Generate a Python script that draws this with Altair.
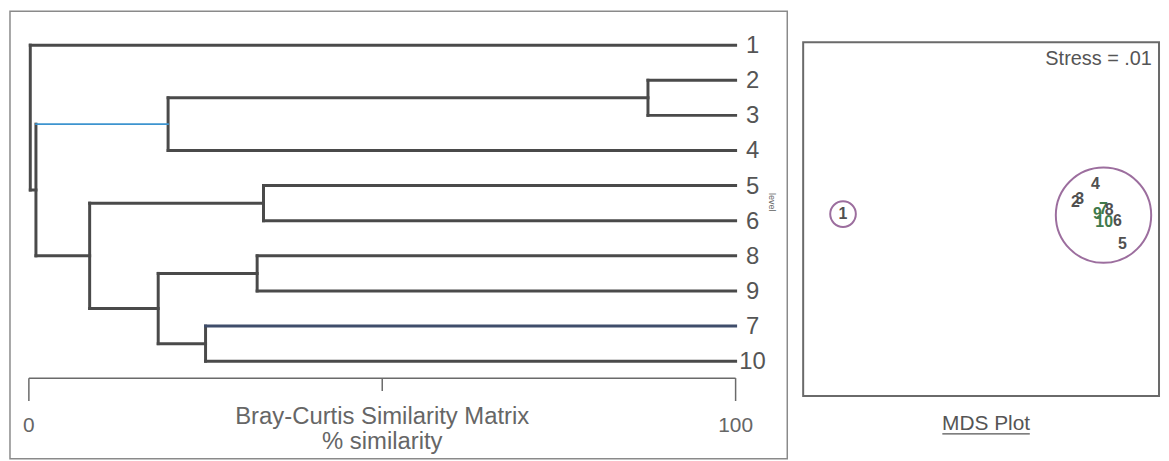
import altair as alt
import pandas as pd

FONT = "Liberation Sans"
GREY = "#555555"

# ---------------- Dendrogram data ----------------
leaf_order = ["1", "2", "3", "4", "5", "6", "8", "9", "7", "10"]
merge_names = ["A", "B", "C", "D", "E", "F", "G", "H", "I"]
merge_left = ["2", "A", "5", "8", "7", "D", "C", "B", "1"]
merge_right = ["3", "4", "6", "9", "10", "E", "F", "G", "H"]
merge_sim = [87.6, 19.7, 33.2, 32.3, 25.0, 18.3, 8.6, 1.0, 0.2]

axis_ticks = [0, 50, 100]
axis_tick_labels = ["0", "", "100"]
axis_title_lines = ["Bray-Curtis Similarity Matrix", "% similarity"]

# ---------------- MDS data ----------------
mds_labels = ["1", "2", "3", "4", "5", "6", "7", "8", "9", "10"]
mds_x = [11.2, 76.5, 77.7, 82.1, 89.7, 88.3, 84.4, 86.0, 82.7, 84.6]
mds_y = [51.4, 54.8, 55.6, 59.8, 43.0, 49.4, 52.8, 52.5, 51.4, 49.2]
circle_cx = [11.2, 84.4]
circle_cy = [51.4, 51.1]
circle_r = [3.6, 13.4]  # radius in MDS x-units
stress_text = "Stress = .01"
mds_title = "MDS Plot"

# ---------------- build dendrogram segments ----------------
pos = {name: (100.0, float(i)) for i, name in enumerate(leaf_order)}
segs = []
for name, l, r, s in zip(merge_names, merge_left, merge_right, merge_sim):
    (xl, yl), (xr, yr) = pos[l], pos[r]
    segs.append(dict(x=s, x2=s, y=yl, y2=yr, child="v"))
    segs.append(dict(x=s, x2=xl, y=yl, y2=yl, child=l))
    segs.append(dict(x=s, x2=xr, y=yr, y2=yr, child=r))
    pos[name] = (s, (yl + yr) / 2)
seg_df = pd.DataFrame(segs)
seg_df["c"] = "#4a4a4a"
seg_df["w"] = 3.0
seg_df.loc[seg_df.child == "B", "c"] = "#3d94cf"
seg_df.loc[seg_df.child == "B", "w"] = 1.6
seg_df.loc[seg_df.child == "7", "c"] = "#3f4d6b"

LW, LH = 782, 450
xs = alt.Scale(domain=[-2.672, 107.31], nice=False, zero=False)
ys = alt.Scale(domain=[-0.962, 11.775], nice=False, zero=False, reverse=True)

segments = alt.Chart(seg_df).mark_rule(strokeCap="square").encode(
    x=alt.X("x:Q", scale=xs, axis=None),
    x2="x2:Q",
    y=alt.Y("y:Q", scale=ys, axis=None),
    y2="y2:Q",
    color=alt.Color("c:N", scale=None),
    size=alt.Size("w:Q", scale=None),
)

leaf_df = pd.DataFrame({"lab": leaf_order, "x": 100.0, "y": list(range(len(leaf_order)))})
leaf_text = alt.Chart(leaf_df).mark_text(
    align="center", baseline="middle", dx=17, dy=1, fontSize=24, font=FONT, color=GREY
).encode(
    x=alt.X("x:Q", scale=xs, axis=None),
    y=alt.Y("y:Q", scale=ys, axis=None),
    text="lab:N",
)

frame = alt.Chart(pd.DataFrame({"a": [0]})).mark_rect(
    fill="transparent", stroke="#8a8a8a", strokeWidth=1.5
).encode(x=alt.value(0), x2=alt.value(LW), y=alt.value(0), y2=alt.value(LH))

axis_df = pd.DataFrame({"a": [axis_ticks[0]], "b": [axis_ticks[-1]]})
axis_line = alt.Chart(axis_df).mark_rule(color="#6a6a6a", strokeWidth=1.5).encode(
    x=alt.X("a:Q", scale=xs, axis=None), x2="b:Q", y=alt.value(369)
)
tick_df = pd.DataFrame({"t": axis_ticks, "lab": axis_tick_labels})
end_ticks = alt.Chart(tick_df[tick_df.t != 50]).mark_rule(color="#6a6a6a", strokeWidth=1.5).encode(
    x=alt.X("t:Q", scale=xs, axis=None), y=alt.value(369), y2=alt.value(392)
)
mid_ticks = alt.Chart(tick_df[tick_df.t == 50]).mark_rule(color="#6a6a6a", strokeWidth=1.5).encode(
    x=alt.X("t:Q", scale=xs, axis=None), y=alt.value(369), y2=alt.value(382)
)
tick_labels = alt.Chart(tick_df).mark_text(
    align="center", baseline="alphabetic", fontSize=21, font=FONT, color="#666666"
).encode(x=alt.X("t:Q", scale=xs, axis=None), y=alt.value(423), text="lab:N")

title_df = pd.DataFrame({"x": [50, 50], "txt": axis_title_lines, "line": [0, 1]})
title1 = alt.Chart(title_df[title_df.line == 0]).mark_text(
    align="center", baseline="alphabetic", fontSize=24, font=FONT, color="#666666"
).encode(x=alt.X("x:Q", scale=xs, axis=None), y=alt.value(415), text="txt:N")
title2 = alt.Chart(title_df[title_df.line == 1]).mark_text(
    align="center", baseline="alphabetic", fontSize=24, font=FONT, color="#666666"
).encode(x=alt.X("x:Q", scale=xs, axis=None), y=alt.value(440), text="txt:N")

level_txt = alt.Chart(pd.DataFrame({"t": ["level"]})).mark_text(
    angle=90, fontSize=9, font=FONT, color="#666666", align="center", baseline="middle"
).encode(x=alt.value(767), y=alt.value(192), text="t:N")

left = alt.layer(
    frame, segments, leaf_text, axis_line, end_ticks, mid_ticks, tick_labels, title1, title2, level_txt
).properties(width=LW, height=LH)

# ---------------- MDS panel ----------------
RW, RH = 358, 450
mx = alt.Scale(domain=[0, 100], nice=False, zero=False)
my = alt.Scale(domain=[-17.7, 108.7], nice=False, zero=False)
px_per_unit = RW / 100.0

box = alt.Chart(pd.DataFrame({"x0": [0], "x1": [100], "y0": [0], "y1": [100]})).mark_rect(
    fill="transparent", stroke="#6a6a6a", strokeWidth=2
).encode(
    x=alt.X("x0:Q", scale=mx, axis=None), x2="x1:Q",
    y=alt.Y("y0:Q", scale=my, axis=None), y2="y1:Q",
)

circ_df = pd.DataFrame({"cx": circle_cx, "cy": circle_cy, "r": circle_r})
circ_df["s"] = (2 * circ_df["r"] * px_per_unit) ** 2
circles = alt.Chart(circ_df).mark_point(
    shape="circle", filled=False, stroke="#9c6e9e", strokeWidth=2, opacity=1
).encode(
    x=alt.X("cx:Q", scale=mx, axis=None),
    y=alt.Y("cy:Q", scale=my, axis=None),
    size=alt.Size("s:Q", scale=None),
)

green = {"7", "9", "10"}
mds_df = pd.DataFrame({"lab": mds_labels, "x": mds_x, "y": mds_y})
mds_df["c"] = ["#3f7a4c" if l in green else "#505050" for l in mds_labels]
points = alt.Chart(mds_df).mark_text(
    fontSize=16, fontWeight="bold", font=FONT, align="center", baseline="middle"
).encode(
    x=alt.X("x:Q", scale=mx, axis=None),
    y=alt.Y("y:Q", scale=my, axis=None),
    text="lab:N",
    color=alt.Color("c:N", scale=None),
)

stress = alt.Chart(pd.DataFrame({"x": [98.0], "y": [95.2], "t": [stress_text]})).mark_text(
    align="right", baseline="middle", fontSize=20, font=FONT, color=GREY
).encode(
    x=alt.X("x:Q", scale=mx, axis=None),
    y=alt.Y("y:Q", scale=my, axis=None),
    text="t:N",
)

mds_tt = alt.Chart(pd.DataFrame({"t": [mds_title]})).mark_text(
    align="center", baseline="alphabetic", fontSize=21, font=FONT, color=GREY
).encode(x=alt.value(184), y=alt.value(421), text="t:N")
underline = alt.Chart(pd.DataFrame({"a": [0]})).mark_rule(color=GREY, strokeWidth=1.2).encode(
    x=alt.value(140), x2=alt.value(228), y=alt.value(425)
)

right = alt.layer(box, circles, points, stress, mds_tt, underline).properties(width=RW, height=RH)

chart = alt.hconcat(left, right, spacing=12).properties(padding=0).configure_view(
    stroke="transparent"
)

chart.save("out.html", embed_options={"renderer": "svg", "actions": False})
